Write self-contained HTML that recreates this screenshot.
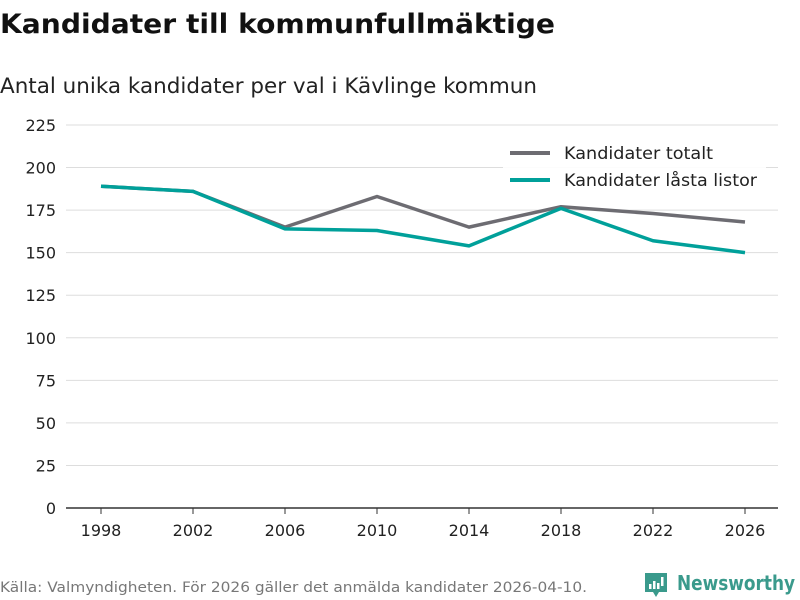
<!DOCTYPE html>
<html><head><meta charset="utf-8"><style>
body{margin:0;width:800px;height:600px;background:#fff;font-family:"DejaVu Sans","Liberation Sans",sans-serif;overflow:hidden;position:relative}
</style></head><body>
<svg id="c" width="800" height="600" style="position:absolute;left:0;top:0">
<text x="0" y="33" font-size="27" font-weight="bold" fill="#111" textLength="555" lengthAdjust="spacingAndGlyphs">Kandidater till kommunfullmäktige</text>
<text x="0" y="93" font-size="21" fill="#222" textLength="537" lengthAdjust="spacingAndGlyphs">Antal unika kandidater per val i Kävlinge kommun</text>
<g id="grid"></g><g id="lines"></g>
<g>
<rect x="503" y="140" width="263" height="60" fill="#fff" opacity="0.9"/>
<line x1="510" y1="153" x2="550" y2="153" stroke="#6d6c72" stroke-width="4"/>
<text x="564" y="159" font-size="17" fill="#222" textLength="149" lengthAdjust="spacingAndGlyphs">Kandidater totalt</text>
<line x1="510" y1="180" x2="550" y2="180" stroke="#00a09a" stroke-width="4"/>
<text x="564" y="186" font-size="17" fill="#222" textLength="193" lengthAdjust="spacingAndGlyphs">Kandidater låsta listor</text>
</g>
<text x="0" y="592" font-size="14" fill="#777" textLength="587" lengthAdjust="spacingAndGlyphs">Källa: Valmyndigheten. För 2026 gäller det anmälda kandidater 2026-04-10.</text>
<g>
<path d="M645 573h22v19h-8l-3 5-3-5h-8z" fill="#3a9a8c"/>
<rect x="649" y="584" width="2.5" height="5" fill="#fff"/><rect x="653" y="581" width="2.5" height="8" fill="#fff"/><rect x="657" y="583" width="2.5" height="6" fill="#fff"/><rect x="661" y="577" width="2.5" height="9" fill="#fff"/>
<text x="677" y="590" font-size="20" font-weight="bold" fill="#3a9a8c" textLength="118" lengthAdjust="spacingAndGlyphs">Newsworthy</text>
</g>
</svg>
<script>
const years=["1998","2002","2006","2010","2014","2018","2022","2026"];
const total=[189,186,165,183,165,177,173,168];
const locked=[189,186,164,163,154,176,157,150];
const yTicks=[0,25,50,75,100,125,150,175,200,225];
const ns="http://www.w3.org/2000/svg";
const x=i=>101+i*(745-101)/(years.length-1);
const y=v=>508-v*(383/225);
const g=document.getElementById('grid'),L=document.getElementById('lines');
function mk(t,a,p){const e=document.createElementNS(ns,t);for(const k in a)e.setAttribute(k,a[k]);p.appendChild(e);return e;}
yTicks.forEach(v=>{
 const l=mk('line',{x1:66,x2:778,y1:y(v),y2:y(v),stroke:v===0?'#333':'#ddd','stroke-width':v===0?1.5:1},g);
 
 
 const t=mk('text',{x:56,y:y(v)+6,'font-size':16,fill:'#222','text-anchor':'end'},g);t.textContent=v;
 
 
});
years.forEach((yr,i)=>{
 const tk=mk('line',{x1:x(i),x2:x(i),y1:508,y2:514,stroke:'#333'},g);
 
 
 const t=mk('text',{x:x(i),y:536,'font-size':16,fill:'#222','text-anchor':'middle'},g);t.textContent=yr;
 
 
});
[[total,'#6d6c72','line-total'],[locked,'#00a09a','line-locked']].forEach(([d,c,n])=>{
 const p=mk('polyline',{points:d.map((v,i)=>x(i)+','+y(v)).join(' '),fill:'none',stroke:c,'stroke-width':3.5,'stroke-linejoin':'round'},L);
 
 
});
</script>
</body></html>
